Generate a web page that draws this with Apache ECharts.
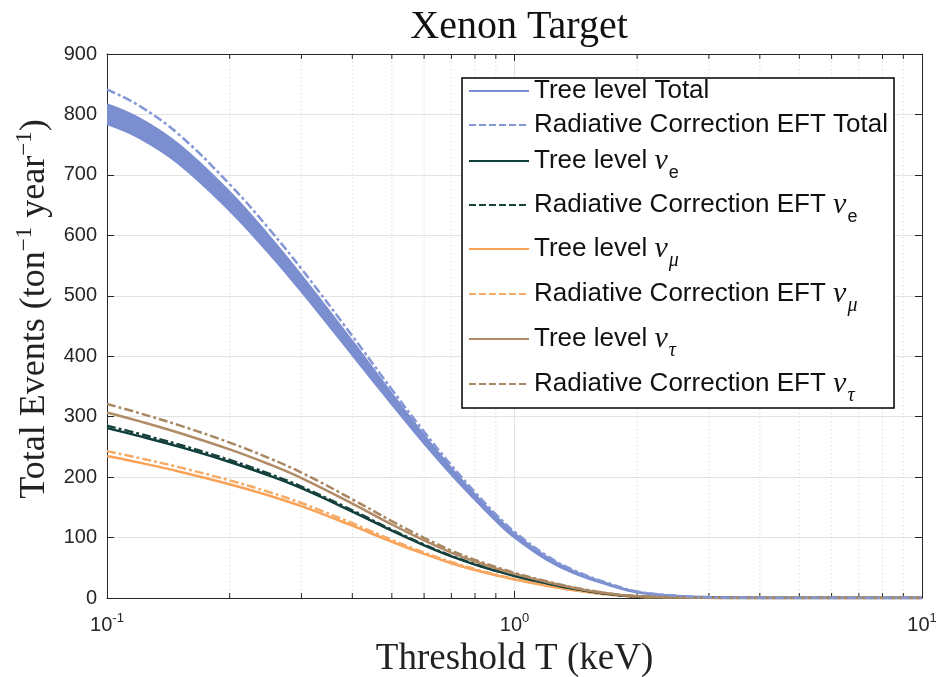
<!DOCTYPE html>
<html>
<head>
<meta charset="utf-8">
<title>Xenon Target</title>
<script src="https://cdn.jsdelivr.net/npm/echarts@6/dist/echarts.min.js"></script>
<style>
  html, body { margin: 0; padding: 0; background: #fff; }
  #chart { width: 941px; height: 677px; }
</style>
</head>
<body>
<div id="chart"></div>
<script>
// threshold values (keV)
var T = [0.1, 0.12, 0.15, 0.2, 0.25, 0.3, 0.4, 0.5, 0.6, 0.7, 0.8, 0.9, 1.0, 1.2, 1.4, 1.7, 2.0, 2.5, 3, 4, 6, 10];

// total events: tree level band (lower / upper edge) and radiative correction
var treeTotalLow  = [784.5, 761.7, 719, 641.5, 570.5, 507.5, 402.5, 321, 256, 204.5, 163, 128, 100.5, 63.5, 41.2, 21.8, 9.5, 3.3, 1.3, 0.2, 0, 0];
var treeTotalHigh = [817.5, 794.3, 751, 672.5, 599.5, 534.5, 425.5, 339, 270, 215.5, 172, 136, 107.5, 68.5, 44.8, 23.8, 10.5, 3.7, 1.3, 0.2, 0, 0];
var radTotal      = [841.5, 814.3, 767, 684.5, 610.5, 544.5, 433.5, 345, 275, 219.5, 175, 138.5, 109.5, 70, 45.8, 24.4, 10.8, 3.7, 1.3, 0.2, 0, 0];

// per flavour
var eTree   = [281, 267.8, 250.4, 225.1, 202.6, 181.7, 143, 111.3, 87.1, 68.8, 55.3, 45, 36.5, 24.2, 15.2, 6.7, 2.5, 0.7, 0.22, 0.03, 0, 0];
var eRad    = [285, 271.6, 253.9, 228.3, 205.5, 184.3, 145.1, 112.9, 88.4, 69.7, 56.1, 45.6, 37.1, 24.5, 15.4, 6.8, 2.6, 0.7, 0.23, 0.03, 0, 0];
var muTree  = [235, 224, 209.4, 188.2, 169.4, 151.9, 119.6, 93.1, 72.9, 57.5, 46.2, 37.6, 30.6, 20.2, 12.7, 5.6, 2.1, 0.6, 0.19, 0.02, 0, 0];
var muRad   = [243, 231.6, 216.5, 194.6, 175.2, 157.1, 123.7, 96.2, 75.3, 59.5, 47.8, 38.9, 31.6, 20.9, 13.1, 5.8, 2.2, 0.6, 0.19, 0.02, 0, 0];
var tauTree = [307, 292.6, 273.5, 245.9, 221.3, 198.5, 156.3, 121.6, 95.2, 75.1, 60.4, 49.1, 39.9, 26.4, 16.6, 7.4, 2.8, 0.8, 0.25, 0.03, 0, 0];
var tauRad  = [321, 305.9, 286, 257.1, 231.4, 207.5, 163.4, 127.1, 99.5, 78.5, 63.1, 51.4, 41.7, 27.6, 17.3, 7.7, 2.9, 0.8, 0.26, 0.03, 0, 0];

// axis ticks
var xTickValues = [0.1, 1, 10];
var xTickExp = ['-1', '0', '1'];
var xMinor = [0.2, 0.3, 0.4, 0.5, 0.6, 0.7, 0.8, 0.9, 2, 3, 4, 5, 6, 7, 8, 9];

var legendNames = [
  'Tree level Total', 'Radiative Correction EFT Total',
  'Tree level νe', 'Radiative Correction EFT νe',
  'Tree level νμ', 'Radiative Correction EFT νμ',
  'Tree level ντ', 'Radiative Correction EFT ντ'
];

function pairs(ys) {
  return T.map(function (t, i) { return [t, ys[i]]; });
}
// y first, so the stack runs on the y values
function pairsYX(ys) {
  return T.map(function (t, i) { return [ys[i], t]; });
}

var dashDot = [9, 3, 3, 3];
var axisColor = '#262626';
var smoothness = 0.4;

function curve(name, ys, color, dashed, z) {
  return {
    name: name,
    type: 'line',
    data: pairs(ys),
    smooth: smoothness,
    symbol: 'none',
    z: z || 3,
    lineStyle: { color: color, width: 2.5, type: dashed ? dashDot : 'solid' },
    itemStyle: { color: color }
  };
}

// legend label with nu subscripts
function legendLabel(name) {
  var m = name.match(/^(.*) ν(.)$/);
  if (!m) return '{t|' + name + '}';
  var sub = m[2];
  var subTok = sub === 'e' ? 'se' : 'sg';
  return '{t|' + m[1] + ' }{nu|ν}{' + subTok + '|' + sub + '}';
}

var chart = echarts.init(document.getElementById('chart'), null, { renderer: 'canvas' });

var bandDiff = treeTotalHigh.map(function (v, i) { return v - treeTotalLow[i]; });

var option = {
  backgroundColor: '#fff',
  animation: false,
  title: {
    text: 'Xenon Target',
    left: 514,
    top: 2,
    textAlign: 'center',
    textStyle: { fontFamily: 'Liberation Serif', fontWeight: 'normal', fontSize: 40, color: '#111' }
  },
  grid: { left: 107, right: 19, top: 54, bottom: 79, containLabel: false, outerBoundsMode: 'none' },
  legend: {
    orient: 'vertical',
    left: 462,
    top: 78,
    padding: [0, 6, 2, 6],
    itemGap: 8,
    itemWidth: 60,
    itemHeight: 14,
    backgroundColor: '#fff',
    borderColor: '#000',
    borderWidth: 1.5,
    borderRadius: 0,
    selectedMode: false,
    itemStyle: { opacity: 0 },
    data: legendNames.map(function (n) {
      var item = { name: n };
      if (n.indexOf('Radiative') === 0) item.lineStyle = { type: [7, 3] };
      return item;
    }),
    formatter: legendLabel,
    textStyle: {
      fontFamily: 'Liberation Sans',
      fontSize: 26,
      color: '#111',
      rich: {
        t: { fontFamily: 'Liberation Sans', fontSize: 26, color: '#111', lineHeight: 32, verticalAlign: 'middle' },
        nu: { fontFamily: 'Liberation Serif', fontStyle: 'italic', fontSize: 30, color: '#111', lineHeight: 32, verticalAlign: 'middle' },
        se: { fontFamily: 'Liberation Sans', fontSize: 18, color: '#111', padding: [24, 0, 0, 1], verticalAlign: 'middle' },
        sg: { fontFamily: 'Liberation Serif', fontStyle: 'italic', fontSize: 20, color: '#111', padding: [24, 0, 0, 1], verticalAlign: 'middle' }
      }
    }
  },
  xAxis: [{
    type: 'log',
    logBase: 10,
    min: 0.1,
    max: 10,
    position: 'bottom',
    name: 'Threshold T (keV)',
    nameLocation: 'middle',
    nameGap: 37,
    nameTextStyle: { fontFamily: 'Liberation Serif', fontSize: 37, color: '#222' },
    axisLine: { show: true, onZero: false, lineStyle: { color: axisColor, width: 1 } },
    axisTick: { show: true, inside: true, length: 7, lineStyle: { color: axisColor } },
    axisLabel: {
      margin: 14,
      formatter: function (v) {
        var i = xTickValues.findIndex(function (t) { return Math.abs(t - v) < 1e-9 * t; });
        if (i < 0) return '';
        return '{b|10}{s|' + xTickExp[i] + '}';
      },
      rich: {
        b: { fontFamily: 'Liberation Sans', fontSize: 20, color: axisColor, verticalAlign: 'middle' },
        s: { fontFamily: 'Liberation Sans', fontSize: 13, color: axisColor, padding: [0, 0, 14, 0], verticalAlign: 'middle' }
      }
    },
    splitLine: { show: true, lineStyle: { color: '#e3e3e3', width: 1 } }
  }, {
    type: 'log',
    logBase: 10,
    min: 0.1,
    max: 10,
    position: 'top',
    axisLine: { show: true, onZero: false, lineStyle: { color: axisColor, width: 1 } },
    axisTick: { show: true, inside: true, length: 7, lineStyle: { color: axisColor } },
    axisLabel: { show: false },
    splitLine: { show: false }
  }],
  yAxis: [{
    type: 'value',
    min: 0,
    max: 900,
    interval: 100,
    position: 'left',
    name: 'Total Events (ton{sup|−1} year{sup|−1})',
    nameLocation: 'middle',
    nameRotate: 90,
    nameGap: 47,
    nameTextStyle: {
      fontFamily: 'Liberation Serif',
      fontSize: 36,
      color: '#222',
      padding: [0, 0, 0, 34],
      rich: {
        sup: { fontFamily: 'Liberation Serif', fontSize: 23, color: '#222', padding: [0, 0, 20, 0], verticalAlign: 'middle' }
      }
    },
    axisLine: { show: true, lineStyle: { color: axisColor, width: 1 } },
    axisTick: { show: true, inside: true, length: 7, lineStyle: { color: axisColor } },
    axisLabel: { margin: 10, fontFamily: 'Liberation Sans', fontSize: 20, color: axisColor },
    splitLine: { show: true, lineStyle: { color: '#e3e3e3', width: 1 } }
  }, {
    type: 'value',
    min: 0,
    max: 900,
    interval: 100,
    position: 'right',
    axisLine: { show: true, lineStyle: { color: axisColor, width: 1 } },
    axisTick: { show: true, inside: true, length: 7, lineStyle: { color: axisColor } },
    axisLabel: { show: false },
    splitLine: { show: false }
  }],
  series: [
    {
      // minor log grid lines and ticks
      name: 'minor grid',
      type: 'custom',
      silent: true,
      z: 1,
      data: xMinor.map(function (v) { return [v, 0]; }),
      encode: { x: 0, y: 1 },
      renderItem: function (params, api) {
        var v = api.value(0);
        var b = api.coord([v, 0]);
        var t = api.coord([v, 900]);
        return {
          type: 'group',
          children: [
            { type: 'line', shape: { x1: b[0], y1: b[1], x2: t[0], y2: t[1] }, style: { stroke: '#cfcfcf', lineWidth: 1, lineDash: [1, 3] } },
            { type: 'line', shape: { x1: b[0], y1: b[1], x2: b[0], y2: b[1] - 5 }, style: { stroke: axisColor, lineWidth: 1 } },
            { type: 'line', shape: { x1: t[0], y1: t[1], x2: t[0], y2: t[1] + 5 }, style: { stroke: axisColor, lineWidth: 1 } }
          ]
        };
      }
    },
    {
      name: 'Tree level Total',
      type: 'line',
      data: pairsYX(treeTotalLow),
      encode: { x: 1, y: 0 },
      stack: 'band',
      smooth: smoothness,
      symbol: 'none',
      z: 3,
      lineStyle: { color: '#7b8ed0', width: 2.5 },
      itemStyle: { color: '#7b8ed0' }
    },
    {
      name: 'Tree level Total band',
      type: 'line',
      data: pairsYX(bandDiff),
      encode: { x: 1, y: 0 },
      stack: 'band',
      smooth: smoothness,
      symbol: 'none',
      z: 3,
      lineStyle: { color: '#7b8ed0', width: 1.5 },
      areaStyle: { color: '#7b8ed0', opacity: 1 },
      itemStyle: { color: '#7b8ed0' }
    },
    curve('Radiative Correction EFT Total', radTotal, '#8396d6', true, 4),
    curve('Tree level νμ', muTree, '#f9a257', false),
    curve('Radiative Correction EFT νμ', muRad, '#f5ab66', true),
    curve('Tree level νe', eTree, '#0f3f3b', false),
    curve('Radiative Correction EFT νe', eRad, '#17423e', true),
    curve('Tree level ντ', tauTree, '#b08b66', false),
    curve('Radiative Correction EFT ντ', tauRad, '#a98762', true)
  ]
};

chart.setOption(option);
</script>
</body>
</html>
